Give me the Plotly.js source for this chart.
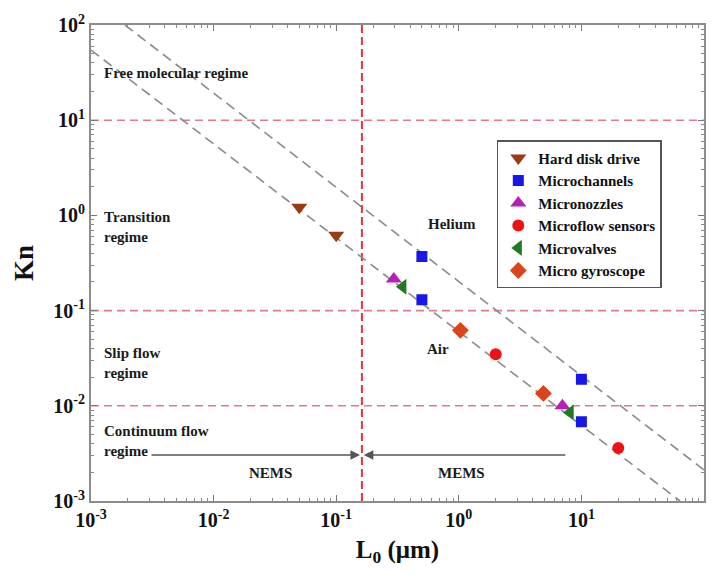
<!DOCTYPE html>
<html>
<head>
<meta charset="utf-8">
<script src="https://cdn.plot.ly/plotly-3.0.1.min.js"></script>
<style>html,body{margin:0;padding:0;background:#fff;}#chart{width:715px;height:583px;}</style>
</head>
<body>
<div id="chart"></div>
<script>
// ---- data ----
const hddL = [0.05, 0.1];
const hddKn = [1.22, 0.62];
const channelL = [0.5, 0.5, 10, 10];
const channelKn = [0.37, 0.13, 0.019, 0.0068];
const nozzleL = [0.295, 7];
const nozzleKn = [0.215, 0.010];
const flowL = [2.0, 20];
const flowKn = [0.0347, 0.0036];
const valveL = [0.35, 8.1];
const valveKn = [0.178, 0.0085];
const gyroL = [1.03, 4.9];
const gyroKn = [0.062, 0.0135];

const heliumLineL = [0.00189, 100];
const heliumLineKn = [100, 0.00212];
const airLineL = [0.001, 63.7];
const airLineKn = [54.6, 0.001];

const regimeBoundsKn = [10, 0.1, 0.01];
const nemsMemsL = 0.162;
const axisRangeL = [0.001, 100];
const axisRangeKn = [0.001, 100];

const tickVals = [0.001, 0.01, 0.1, 1, 10, 100];
const tickText = ["10<sup>-3</sup>", "10<sup>-2</sup>", "10<sup>-1</sup>", "10<sup>0</sup>", "10<sup>1</sup>", "10<sup>2</sup>"];

const seriesNames = ["Hard disk drive", "Microchannels", "Micronozzles", "Microflow sensors", "Microvalves", "Micro gyroscope"];

const arrowKn = 0.00304;
const nemsStartL = 0.00303;
const memsStartL = 7.6;

// ---- build ----
const FONT = "Liberation Serif, Times New Roman, serif";
const lg = Math.log10;
const traces = [];

regimeBoundsKn.forEach(k => {
  traces.push({x: axisRangeL, y: [k, k], mode: "lines", showlegend: false, hoverinfo: "skip",
    line: {color: "#e07b8a", width: 1.6, dash: "8px,5px"}});
});
traces.push({x: [nemsMemsL, nemsMemsL], y: axisRangeKn, mode: "lines", showlegend: false, hoverinfo: "skip",
  line: {color: "#e8303a", width: 2, dash: "8px,4px"}});
traces.push({x: heliumLineL, y: heliumLineKn, mode: "lines", showlegend: false, hoverinfo: "skip",
  line: {color: "#8a8a8a", width: 1.6, dash: "10px,6px"}});
traces.push({x: airLineL, y: airLineKn, mode: "lines", showlegend: false, hoverinfo: "skip",
  line: {color: "#8a8a8a", width: 1.6, dash: "10px,6px"}});

const sets = [
  [hddL, hddKn, "triangle-down", "#9b3b14", 14],
  [channelL, channelKn, "square", "#1717ea", 11],
  [nozzleL, nozzleKn, "triangle-up", "#b620b6", 14],
  [flowL, flowKn, "circle", "#f01212", 12],
  [valveL, valveKn, "triangle-left", "#1e7b1e", 14],
  [gyroL, gyroKn, "diamond", "#d9441a", 13]
];
sets.forEach((s, i) => {
  traces.push({x: s[0], y: s[1], mode: "markers", name: seriesNames[i],
    marker: {symbol: s[2], color: s[3], size: s[4], line: {width: 0}}});
});

const txt = (t, x, y, anchor) => ({text: t, x: x, y: y, xref: "x", yref: "y", showarrow: false,
  xanchor: anchor || "left", yanchor: "middle", align: "left",
  font: {family: FONT, size: 15, color: "#1a1a1a", weight: "bold"}});

const annotations = [
  txt("<b>Free molecular regime</b>", -2.91, 1.496),
  txt("<b>Transition<br>regime</b>", -2.91, -0.122),
  txt("<b>Slip flow<br>regime</b>", -2.91, -1.55),
  txt("<b>Continuum flow<br>regime</b>", -2.91, -2.37),
  txt("<b>Helium</b>", -0.055, -0.09, "center"),
  txt("<b>Air</b>", -0.17, -1.403, "center"),
  txt("<b>NEMS</b>", -1.54, -2.706, "center"),
  txt("<b>MEMS</b>", 0.026, -2.706, "center"),
  {x: lg(nemsMemsL) - 0.015, y: lg(arrowKn), ax: lg(nemsStartL), ay: lg(arrowKn), xref: "x", yref: "y", axref: "x", ayref: "y",
   showarrow: true, arrowhead: 2, arrowsize: 1.2, arrowwidth: 1.6, arrowcolor: "#555", text: ""},
  {x: lg(nemsMemsL) + 0.015, y: lg(arrowKn), ax: lg(memsStartL), ay: lg(arrowKn), xref: "x", yref: "y", axref: "x", ayref: "y",
   showarrow: true, arrowhead: 2, arrowsize: 1.2, arrowwidth: 1.6, arrowcolor: "#555", text: ""}
];

const axisCommon = {
  type: "log", showgrid: false, zeroline: false,
  showline: true, linecolor: "#8c8c8c", linewidth: 2, mirror: "allticks",
  ticks: "inside", ticklen: 6, tickwidth: 1.2, tickcolor: "#777",
  tickvals: tickVals, ticktext: tickText,
  tickfont: {family: FONT, size: 20, color: "#111", weight: "bold"},
  minor: {ticks: "inside", ticklen: 3, tickcolor: "#888", tickwidth: 1, dtick: "D1", showgrid: false}
};

const layout = {
  width: 715, height: 583,
  margin: {l: 91, r: 11, t: 25, b: 82},
  paper_bgcolor: "#fff", plot_bgcolor: "#fff",
  showlegend: true,
  legend: {x: 0.662, y: 0.758, xanchor: "left", yanchor: "top",
    bgcolor: "#fff", bordercolor: "#555", borderwidth: 1.5,
    font: {family: FONT, size: 15, color: "#111", weight: "bold"}, itemwidth: 30},
  xaxis: Object.assign({}, axisCommon, {range: [lg(axisRangeL[0]), lg(axisRangeL[1])],
    title: {text: "<b>L<sub>0</sub> (μm)</b>", font: {family: FONT, size: 25, color: "#111"}, standoff: 10}}),
  yaxis: Object.assign({}, axisCommon, {range: [lg(axisRangeKn[0]), lg(axisRangeKn[1])],
    title: {text: "<b>Kn</b>", font: {family: FONT, size: 27, color: "#111"}, standoff: 12}}),
  annotations: annotations
};

Plotly.newPlot("chart", traces, layout, {displayModeBar: false, staticPlot: true});
</script>
</body>
</html>
